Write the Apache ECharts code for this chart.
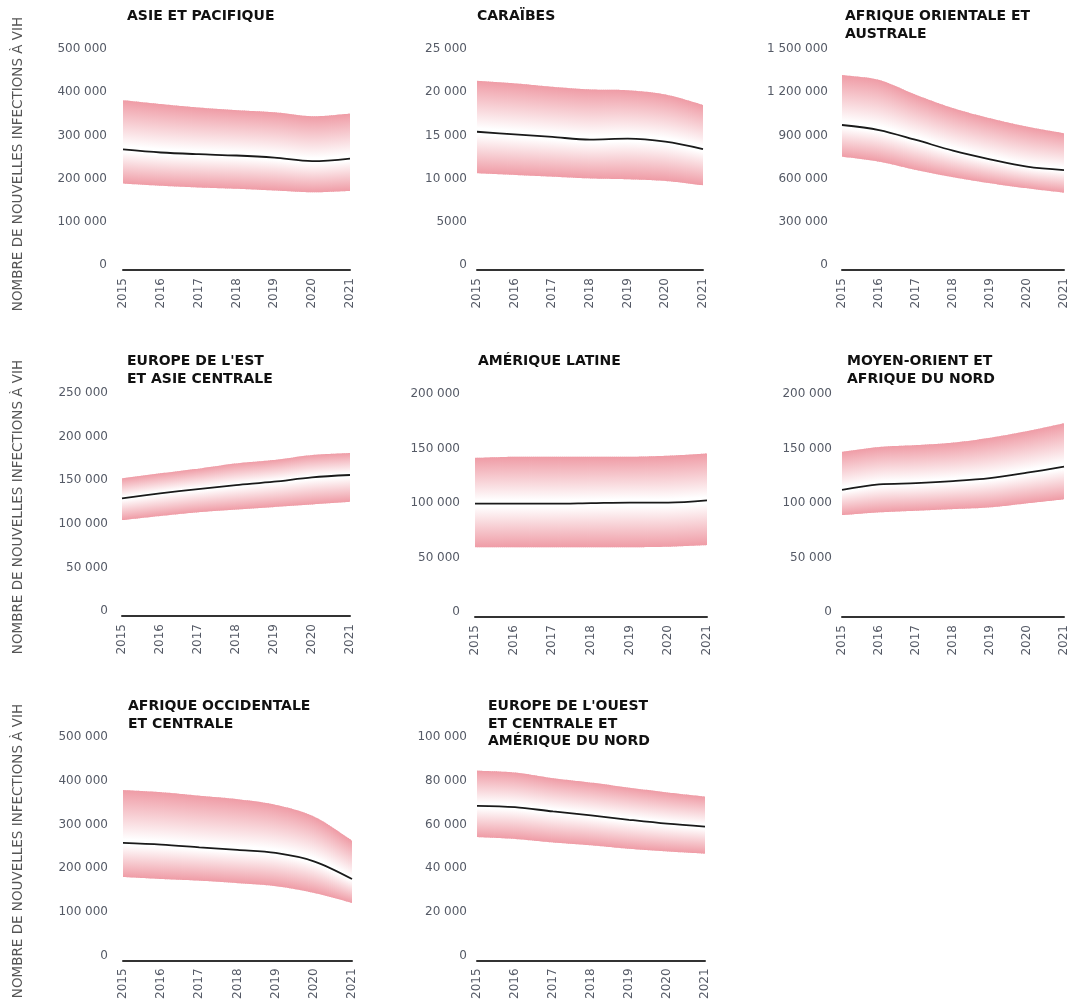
<!DOCTYPE html>
<html lang="fr">
<head>
<meta charset="utf-8">
<title>Nouvelles infections à VIH par région, 2015–2021</title>
<script src="https://cdn.jsdelivr.net/npm/echarts@6/dist/echarts.min.js"></script>
<style>
  html, body { margin: 0; padding: 0; background: #ffffff; }
  #chart { width: 1070px; height: 1002px; }
</style>
</head>
<body>
<div id="chart"></div>
<script>
// Années (axe horizontal de chaque panneau)
const years = ['2015', '2016', '2017', '2018', '2019', '2020', '2021'];

// Asie et Pacifique
const asiePacifiqueEst  = [279000, 272000, 268000, 265000, 260000, 252000, 258000];
const asiePacifiqueBas  = [200000, 195000, 191000, 188000, 184000, 180000, 183000];
const asiePacifiqueHaut = [393000, 384000, 376000, 370000, 365000, 356000, 362000];

// Caraïbes
const caraibesEst  = [16000, 15700, 15400, 15100, 15200, 14850, 14000];
const caraibesBas  = [11200, 11000, 10800, 10600, 10500, 10300, 9800];
const caraibesHaut = [21900, 21600, 21200, 20900, 20800, 20300, 19100];

// Afrique orientale et australe
const afriqueOrientaleEst  = [1007000, 972000, 903000, 829000, 769000, 718000, 694000];
const afriqueOrientaleBas  = [787000, 752000, 694000, 644000, 602000, 567000, 537000];
const afriqueOrientaleHaut = [1354000, 1319000, 1215000, 1123000, 1053000, 995000, 949000];

// Europe de l'Est et Asie centrale
const europeEstEst  = [135000, 140700, 145600, 150000, 154000, 159000, 161700];
const europeEstBas  = [110000, 114700, 119000, 122000, 125000, 128000, 131000];
const europeEstHaut = [158000, 163600, 169000, 175000, 179000, 184600, 187000];

// Amérique latine
const ameriqueLatineEst  = [104000, 104000, 104000, 104500, 105000, 105000, 107000];
const ameriqueLatineBas  = [64000, 64000, 64000, 64000, 64000, 64500, 66000];
const ameriqueLatineHaut = [146000, 147000, 147000, 147000, 147000, 148000, 150000];

// Moyen-Orient et Afrique du Nord
const moyenOrientEst  = [116700, 121600, 122800, 124700, 127500, 132400, 138000];
const moyenOrientBas  = [93500, 96000, 97500, 99000, 100600, 104300, 108000];
const moyenOrientHaut = [151600, 156000, 157700, 160000, 164500, 170600, 177800];

// Afrique occidentale et centrale
const afriqueOccidentaleEst  = [269000, 265000, 259000, 253000, 246000, 227000, 186500];
const afriqueOccidentaleBas  = [191000, 186500, 182600, 177000, 170000, 154500, 131700];
const afriqueOccidentaleHaut = [390000, 385000, 377000, 369000, 356000, 329000, 274000];

// Europe de l'Ouest et centrale et Amérique du Nord
const europeOuestEst  = [70800, 70200, 68200, 66400, 64400, 62600, 61300];
const europeOuestBas  = [56500, 55600, 54000, 52700, 51100, 49900, 48900];
const europeOuestHaut = [86900, 86000, 83400, 81400, 79100, 76900, 75000];

// Titres des panneaux
const panelTitles = [
  'ASIE ET PACIFIQUE',
  'CARAÏBES',
  'AFRIQUE ORIENTALE ET\nAUSTRALE',
  "EUROPE DE L'EST\nET ASIE CENTRALE",
  'AMÉRIQUE LATINE',
  'MOYEN-ORIENT ET\nAFRIQUE DU NORD',
  'AFRIQUE OCCIDENTALE\nET CENTRALE',
  "EUROPE DE L'OUEST\nET CENTRALE ET\nAMÉRIQUE DU NORD"
];

// Bornes des axes verticaux
const yMax      = [500000, 25000, 1500000, 250000, 200000, 200000, 500000, 100000];
const yInterval = [100000, 5000, 300000, 50000, 50000, 50000, 100000, 20000];

const yAxisTitle = 'NOMBRE DE NOUVELLES INFECTIONS À VIH';

const panelData = [
  [asiePacifiqueBas, asiePacifiqueEst, asiePacifiqueHaut],
  [caraibesBas, caraibesEst, caraibesHaut],
  [afriqueOrientaleBas, afriqueOrientaleEst, afriqueOrientaleHaut],
  [europeEstBas, europeEstEst, europeEstHaut],
  [ameriqueLatineBas, ameriqueLatineEst, ameriqueLatineHaut],
  [moyenOrientBas, moyenOrientEst, moyenOrientHaut],
  [afriqueOccidentaleBas, afriqueOccidentaleEst, afriqueOccidentaleHaut],
  [europeOuestBas, europeOuestEst, europeOuestHaut]
];

// Mise en page (pixels)
const layout = [
  { left: 123, top: 54,  width: 227, height: 216, labelMargin: 16, titleLeft: 127, titleTop: 8 },
  { left: 477, top: 54,  width: 226, height: 216, labelMargin: 10, titleLeft: 477, titleTop: 8 },
  { left: 842, top: 54,  width: 226, height: 216, labelMargin: 14, titleLeft: 845, titleTop: 8 },
  { left: 122, top: 398, width: 228, height: 218, labelMargin: 14, titleLeft: 127, titleTop: 353 },
  { left: 475, top: 399, width: 232, height: 218, labelMargin: 15, titleLeft: 478, titleTop: 353 },
  { left: 842, top: 399, width: 226, height: 218, labelMargin: 10, titleLeft: 847, titleTop: 353 },
  { left: 123, top: 742, width: 229, height: 219, labelMargin: 15, titleLeft: 128, titleTop: 698 },
  { left: 477, top: 742, width: 228, height: 219, labelMargin: 10, titleLeft: 488, titleTop: 698 }
];

const FONT = 'DejaVu Sans';
const LABEL_COLOR = '#555a66';
const PINK = '#ef9ca6';
const SMOOTH = 0.33;

// Format français : espace comme séparateur de milliers (sauf nombres à 4 chiffres)
function formatNumber(v) {
  if (Math.abs(v) < 10000) return String(v);
  return String(v).replace(/\B(?=(\d{3})+(?!\d))/g, ' ');
}

// Courbe lissée (même lissage que la ligne) évaluée entre deux années, en pixels
function curveY(ys, i, t) {
  const n = ys.length;
  const y0 = ys[i], y1 = ys[i + 1];
  const cp1 = y0 + (i === 0 ? (y1 - y0) : (ys[i + 1] - ys[i - 1]) / 2) * SMOOTH;
  const cp2 = y1 - (i + 1 === n - 1 ? (y1 - y0) : (ys[i + 2] - ys[i]) / 2) * SMOOTH;
  const u = 1 - t;
  return u * u * u * y0 + 3 * u * u * t * cp1 + 3 * u * t * t * cp2 + t * t * t * y1;
}

// Bande d'incertitude : dégradé rose sur les bords, blanc au niveau de l'estimation
function makeBandRenderer(bas, est, haut) {
  return function (params, api) {
    const i = api.value(0);
    const n = years.length;
    const px = idx => api.coord([idx, 0])[0];
    const py = v => api.coord([0, v])[1];
    const hiY = haut.map(py), esY = est.map(py), loY = bas.map(py);
    const xa = px(i), xb = px(i + 1);
    const N = 20;
    const children = [];
    for (let s = 0; s < N; s++) {
      const t0 = s / N, t1 = (s + 1) / N, tm = (s + 0.5) / N;
      const x0 = xa + (xb - xa) * t0;
      const last = (i === n - 2 && s === N - 1);
      const x1 = xa + (xb - xa) * t1 + (last ? 0 : 0.8);
      const xm = xa + (xb - xa) * tm;
      const h0 = curveY(hiY, i, t0), h1 = curveY(hiY, i, t1), hm = curveY(hiY, i, tm);
      const e0 = curveY(esY, i, t0), e1 = curveY(esY, i, t1), em = curveY(esY, i, tm);
      const l0 = curveY(loY, i, t0), l1 = curveY(loY, i, t1), lm = curveY(loY, i, tm);
      children.push({
        type: 'polygon',
        shape: { points: [[x0, h0], [x1, h1], [x1, e1], [x0, e0]] },
        style: {
          fill: new echarts.graphic.LinearGradient(xm, hm, xm, em, [
            { offset: 0, color: PINK },
            { offset: 0.93, color: '#ffffff' },
            { offset: 1, color: '#ffffff' }
          ], true)
        },
        silent: true
      });
      children.push({
        type: 'polygon',
        shape: { points: [[x0, e0], [x1, e1], [x1, l1], [x0, l0]] },
        style: {
          fill: new echarts.graphic.LinearGradient(xm, em, xm, lm, [
            { offset: 0, color: '#ffffff' },
            { offset: 0.07, color: '#ffffff' },
            { offset: 1, color: PINK }
          ], true)
        },
        silent: true
      });
    }
    return { type: 'group', children };
  };
}

const grids = [], xAxes = [], yAxes = [], series = [], titles = [];

layout.forEach((L, p) => {
  grids.push({ left: L.left, top: L.top, width: L.width, height: L.height, containLabel: false });
  xAxes.push({
    type: 'category', gridIndex: p, data: years, boundaryGap: false,
    axisLine: { lineStyle: { color: '#333333', width: 2 } },
    axisTick: { show: false },
    axisLabel: { rotate: 90, margin: 8, fontFamily: FONT, fontSize: 12, color: LABEL_COLOR, interval: 0 },
    splitLine: { show: false }
  });
  yAxes.push({
    type: 'value', gridIndex: p, min: 0, max: yMax[p], interval: yInterval[p],
    axisLine: { show: false }, axisTick: { show: false }, splitLine: { show: false },
    axisLabel: {
      margin: L.labelMargin, fontFamily: FONT, fontSize: 12, color: LABEL_COLOR,
      verticalAlign: 'bottom', lineHeight: 10,
      formatter: formatNumber
    }
  });
  const [bas, est, haut] = panelData[p];
  const bandData = [];
  for (let i = 0; i < years.length - 1; i++) {
    bandData.push([i, bas[i], est[i], haut[i], bas[i + 1], est[i + 1], haut[i + 1]]);
  }
  series.push({
    type: 'custom', xAxisIndex: p, yAxisIndex: p,
    renderItem: makeBandRenderer(bas, est, haut), data: bandData,
    encode: { x: 0, y: [1, 2, 3, 4, 5, 6] },
    silent: true, z: 1
  });
  series.push({
    type: 'line', xAxisIndex: p, yAxisIndex: p, data: est,
    symbol: 'none', smooth: SMOOTH, lineStyle: { color: '#1a1a1a', width: 1.8 },
    silent: true, z: 3
  });
  titles.push({
    text: panelTitles[p], left: L.titleLeft, top: L.titleTop, padding: 0,
    textStyle: { fontFamily: FONT, fontSize: 14, fontWeight: 'bold', color: '#111111', lineHeight: 17.5 }
  });
});

// Titre vertical de l'axe, un par rangée
const sideTitles = [164, 507, 851].map(cy => ({
  type: 'text', x: 18, y: cy, rotation: Math.PI / 2,
  style: { text: yAxisTitle, fontFamily: FONT, fontSize: 13.5, fill: '#555555', align: 'center', verticalAlign: 'middle' },
  silent: true
}));

const chart = echarts.init(document.getElementById('chart'), null, { renderer: 'canvas' });
chart.setOption({
  animation: false,
  backgroundColor: '#ffffff',
  title: titles,
  grid: grids,
  xAxis: xAxes,
  yAxis: yAxes,
  series: series,
  graphic: sideTitles
});
</script>
</body>
</html>
